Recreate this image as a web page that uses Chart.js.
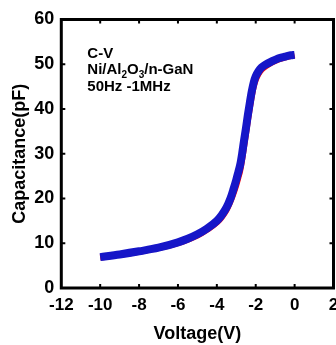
<!DOCTYPE html>
<html>
<head>
<meta charset="utf-8">
<script src="https://cdn.jsdelivr.net/npm/chart.js@4"></script>
<style>
    body { margin: 0; background: #fff; }
</style>
</head>
<body>
<canvas id="cv" width="336" height="345"></canvas>
<script>
    // Data
    const voltage = [-10, -9, -8, -7, -6, -5.5, -5, -4.5, -4.0, -3.75, -3.5, -3.3, -3.15, -3.0, -2.89, -2.8, -2.7, -2.6, -2.5, -2.4, -2.3, -2.2, -2.1, -2.0, -1.85, -1.7, -1.5, -1.2, -0.85, -0.5, -0.2, 0];
    const capHigh = [6.9, 7.5, 8.2, 9.0, 10.2, 11.0, 12.0, 13.3, 15.0, 16.3, 18.0, 20.0, 22.0, 24.2, 26.0, 27.5, 30.0, 33.0, 35.8, 38.8, 41.5, 44.0, 46.0, 47.3, 48.5, 49.3, 49.9, 50.6, 51.3, 51.7, 52.0, 52.1];
    const capLow = [6.8, 7.4, 8.1, 8.9, 10.0, 10.8, 11.7, 13.0, 14.6, 15.8, 17.4, 19.3, 21.0, 23.0, 24.7, 26.2, 28.6, 31.5, 34.4, 37.4, 40.2, 42.8, 45.0, 46.5, 47.9, 48.8, 49.5, 50.3, 51.0, 51.5, 51.8, 52.0];
    const xTicks = [-12, -10, -8, -6, -4, -2, 0, 2];
    const yTicks = [0, 10, 20, 30, 40, 50, 60];

    const FONT = "'Liberation Sans', Arial, sans-serif";

    const toPoints = (xs, ys) => xs.map((v, i) => ({ x: v, y: ys[i] }));

    // Frame + inward ticks on all four sides
    const framePlugin = {
        id: 'frame',
        afterDraw(chart) {
            const ctx = chart.ctx;
            const { left, right, top, bottom } = chart.chartArea;
            const sx = chart.scales.x, sy = chart.scales.y;
            const len = 4;
            ctx.save();
            ctx.strokeStyle = '#000';
            ctx.lineWidth = 2;
            ctx.beginPath();
            xTicks.slice(1, -1).forEach(v => {
                const px = sx.getPixelForValue(v);
                ctx.moveTo(px, bottom); ctx.lineTo(px, bottom - len);
                ctx.moveTo(px, top); ctx.lineTo(px, top + len);
            });
            yTicks.slice(1, -1).forEach(v => {
                const py = sy.getPixelForValue(v);
                ctx.moveTo(left, py); ctx.lineTo(left + len, py);
                ctx.moveTo(right, py); ctx.lineTo(right - len, py);
            });
            ctx.stroke();
            ctx.lineWidth = 3;
            ctx.strokeRect(left, top, right - left, bottom - top);
            ctx.restore();
        }
    };

    // Text block in the upper left, with subscripts
    const notePlugin = {
        id: 'note',
        afterDraw(chart) {
            const ctx = chart.ctx;
            const { left, top } = chart.chartArea;
            const x0 = left + 26;
            const lines = [
                [['C-V', false]],
                [['Ni/Al', false], ['2', true], ['O', false], ['3', true], ['/n-GaN', false]],
                [['50Hz -1MHz', false]]
            ];
            ctx.save();
            ctx.fillStyle = '#000';
            ctx.textBaseline = 'alphabetic';
            lines.forEach((parts, i) => {
                let x = x0;
                const base = top + 38 + i * 16.5;
                parts.forEach(([t, sub]) => {
                    ctx.font = `bold ${sub ? 10 : 15}px ${FONT}`;
                    ctx.fillText(t, x, sub ? base + 4 : base);
                    x += ctx.measureText(t).width;
                });
            });
            ctx.restore();
        }
    };

    new Chart(document.getElementById('cv'), {
        type: 'scatter',
        data: {
            datasets: [
                {
                    data: toPoints(voltage, capHigh),
                    showLine: true,
                    borderColor: '#1616c8',
                    borderWidth: 8,
                    pointRadius: 0,
                    cubicInterpolationMode: 'monotone'
                },
                {
                    data: toPoints(voltage, capLow),
                    showLine: true,
                    borderColor: '#ff0000',
                    borderWidth: 6,
                    pointRadius: 0,
                    cubicInterpolationMode: 'monotone'
                }
            ]
        },
        options: {
            responsive: false,
            animation: false,
            devicePixelRatio: 1,
            layout: { padding: { top: 19.5, right: 2.5, left: 0, bottom: 0 } },
            plugins: {
                legend: { display: false },
                tooltip: { enabled: false }
            },
            scales: {
                x: {
                    type: 'linear',
                    min: -12,
                    max: 2,
                    afterBuildTicks: s => { s.ticks = xTicks.map(v => ({ value: v })); },
                    afterFit: s => { s.height = 57; s.paddingLeft = 0; s.paddingRight = 0; },
                    grid: { display: false, drawTicks: false },
                    border: { display: false },
                    ticks: {
                        color: '#000',
                        padding: 7,
                        maxRotation: 0,
                        autoSkip: false,
                        font: { family: FONT, size: 17, weight: 'bold' }
                    },
                    title: {
                        display: true,
                        text: 'Voltage(V)',
                        color: '#000',
                        padding: { top: 0, bottom: 0 },
                        font: { family: FONT, size: 18, weight: 'bold' }
                    }
                },
                y: {
                    type: 'linear',
                    min: 0,
                    max: 60,
                    afterBuildTicks: s => { s.ticks = yTicks.map(v => ({ value: v })); },
                    afterFit: s => { s.width = 61.3; },
                    grid: { display: false, drawTicks: false },
                    border: { display: false },
                    ticks: {
                        color: '#000',
                        padding: 7,
                        autoSkip: false,
                        font: { family: FONT, size: 18, weight: 'bold' }
                    },
                    title: {
                        display: true,
                        text: 'Capacitance(pF)',
                        color: '#000',
                        padding: { top: 9, bottom: 0 },
                        font: { family: FONT, size: 18, weight: 'bold' }
                    }
                }
            }
        },
        plugins: [framePlugin, notePlugin]
    });
</script>
</body>
</html>
